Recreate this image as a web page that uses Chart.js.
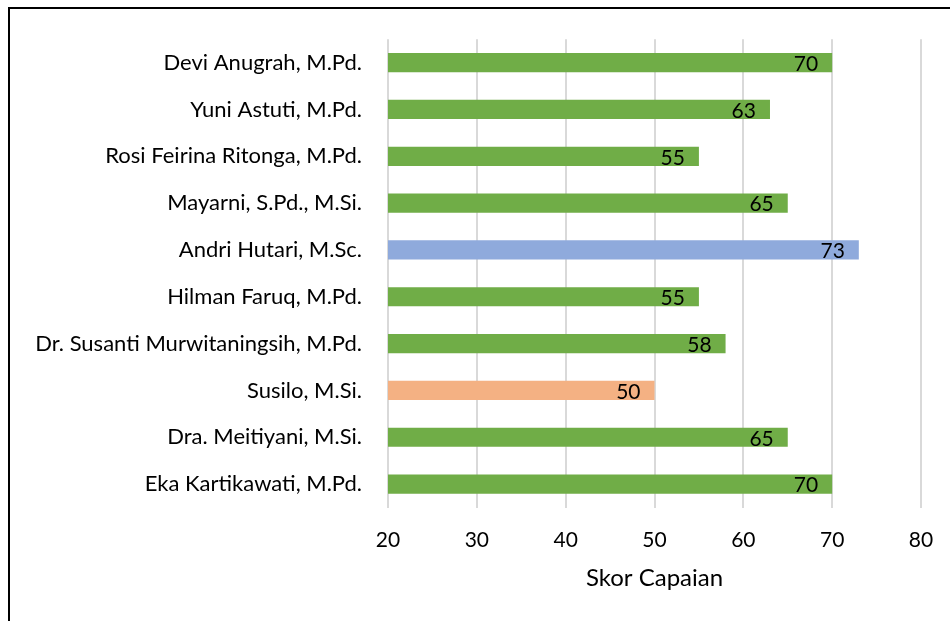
<!DOCTYPE html>
<html>
<head>
<meta charset="utf-8">
<script src="https://cdn.jsdelivr.net/npm/chart.js@4/dist/chart.umd.min.js"></script>
<style>
    html, body { margin: 0; padding: 0; background: #fff; }
    #wrap { position: relative; width: 950px; height: 621px; overflow: hidden; }
    #frame {
        position: absolute; left: 8px; top: 7px; width: 1000px; height: 700px;
        border-top: 2px solid #000; border-left: 2px solid #000;
        pointer-events: none;
    }
</style>
</head>
<body>
<div id="wrap">
    <canvas id="skorChart" width="950" height="621"></canvas>
    <div id="frame"></div>
</div>
<script>
// Data
const names = [
    "Devi Anugrah, M.Pd.",
    "Yuni Astuti, M.Pd.",
    "Rosi Feirina Ritonga, M.Pd.",
    "Mayarni, S.Pd., M.Si.",
    "Andri Hutari, M.Sc.",
    "Hilman Faruq, M.Pd.",
    "Dr. Susanti Murwitaningsih, M.Pd.",
    "Susilo, M.Si.",
    "Dra. Meitiyani, M.Si.",
    "Eka Kartikawati, M.Pd."
];
const scores = [70, 63, 55, 65, 73, 55, 58, 50, 65, 70];
const barColors = [
    "#70AD47", "#70AD47", "#70AD47", "#70AD47", "#8FAADC",
    "#70AD47", "#70AD47", "#F4B183", "#70AD47", "#70AD47"
];
const xTicks = [20, 30, 40, 50, 60, 70, 80];
const axisTitle = "Skor Capaian";

const FONT = "Lato, 'Open Sans', sans-serif";

// value labels drawn inside the bar end
const valueLabels = {
    id: 'valueLabels',
    afterDatasetsDraw(chart) {
        const ctx = chart.ctx;
        const meta = chart.getDatasetMeta(0);
        ctx.save();
        ctx.font = "21px " + FONT;
        ctx.fillStyle = "#000";
        ctx.textAlign = "right";
        ctx.textBaseline = "middle";
        meta.data.forEach((bar, i) => {
            ctx.fillText(String(scores[i]), bar.x - 14, bar.y + 1.5);
        });
        ctx.restore();
    }
};

new Chart(document.getElementById('skorChart'), {
    type: 'bar',
    data: {
        labels: names,
        datasets: [{
            data: scores,
            backgroundColor: barColors,
            borderWidth: 0,
            barPercentage: 0.41,
            categoryPercentage: 1
        }]
    },
    options: {
        indexAxis: 'y',
        responsive: false,
        animation: false,
        layout: { padding: { left: 0, right: 29, top: 37.5, bottom: 0 } },
        plugins: {
            legend: { display: false },
            tooltip: { enabled: false }
        },
        scales: {
            x: {
                min: 20,
                max: 80,
                afterBuildTicks(scale) {
                    scale.ticks = xTicks.map(v => ({ value: v }));
                },
                afterFit(scale) {
                    scale.height = 113.5;
                    scale.paddingLeft = 0;
                    scale.paddingRight = 0;
                },
                grid: { color: "#d9d9d9", lineWidth: 2, drawTicks: false },
                border: { display: false },
                ticks: {
                    padding: 20,
                    color: "#000",
                    font: { family: FONT, size: 21 }
                },
                title: {
                    display: true,
                    text: axisTitle,
                    color: "#000",
                    font: { family: FONT, size: 24 },
                    padding: { top: 0, bottom: 28.5 }
                }
            },
            y: {
                afterFit(scale) { scale.width = 388; },
                grid: { display: false, drawTicks: false },
                border: { display: false },
                ticks: {
                    padding: 26,
                    color: "#000",
                    font: { family: FONT, size: 22 }
                }
            }
        }
    },
    plugins: [valueLabels]
});
</script>
</body>
</html>
